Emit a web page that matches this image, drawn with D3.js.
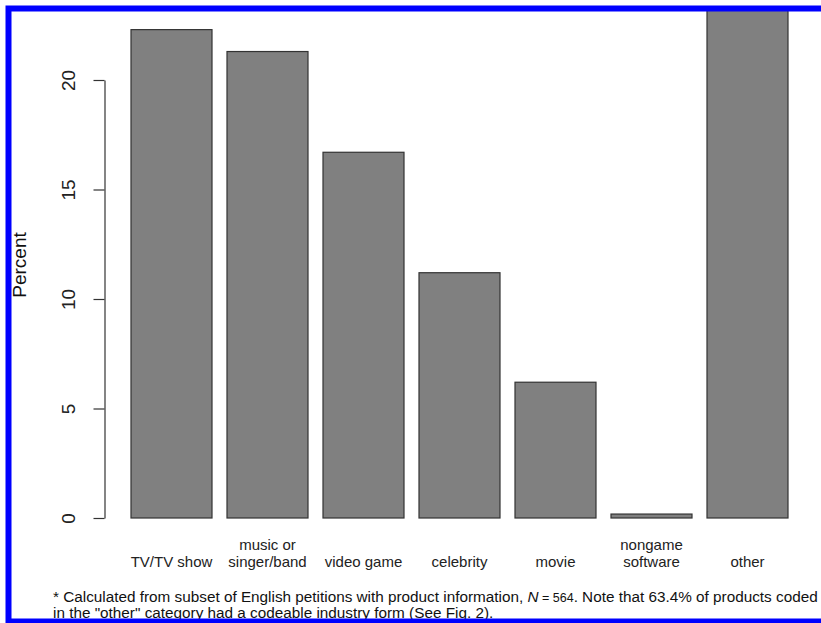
<!DOCTYPE html>
<html>
<head>
<meta charset="utf-8">
<script src="https://cdn.jsdelivr.net/npm/d3@7"></script>
<style>
  html, body { margin: 0; padding: 0; background: #fff; }
  svg { display: block; font-family: "Liberation Sans", Arial, Helvetica, sans-serif; }
</style>
</head>
<body>
<svg id="chart" width="821" height="623"></svg>
<script>
// data
var categories = ["TV/TV show", "music or\nsinger/band", "video game", "celebrity", "movie", "nongame\nsoftware", "other"];
var percents = [22.3, 21.3, 16.7, 11.2, 6.2, 0.18, 24.5];
var yTicks = [0, 5, 10, 15, 20];
var footnote = [
  ["* Calculated from subset of English petitions with product information, ", {it: "N"}, {sm: " = 564"}, ". Note that 63.4% of products coded"],
  ["in the \"other\" category had a codeable industry form (See Fig. 2)."]
];

var svg = d3.select("#chart");

var x = d3.scaleBand()
  .domain(categories)
  .range([131, 788])
  .paddingInner(15 / 96)
  .paddingOuter(0);

var y = d3.scaleLinear()
  .domain([0, 20])
  .range([518, 80]);

// keep the tall bar inside the frame
svg.append("clipPath").attr("id", "frame")
  .append("rect").attr("x", 8).attr("y", 8).attr("width", 821).attr("height", 612);

svg.append("g")
  .attr("clip-path", "url(#frame)")
  .selectAll("rect")
  .data(percents)
  .enter().append("rect")
  .attr("x", function(d, i) { return x(categories[i]); })
  .attr("y", function(d) { return y(d); })
  .attr("width", x.bandwidth())
  .attr("height", function(d) { return y(0) - y(d); })
  .style("fill", "#808080")
  .style("stroke", "#333")
  .style("stroke-width", 1.2);

// y axis, R style: labels parallel to the axis
var yAxis = svg.append("g")
  .attr("transform", "translate(104.5,0)")
  .call(d3.axisLeft(y).tickValues(yTicks).tickSize(11).tickSizeOuter(0));
yAxis.select(".domain").attr("stroke", "#333").attr("stroke-width", 1.2);
yAxis.selectAll(".tick line").attr("stroke", "#333").attr("stroke-width", 1.2);
yAxis.selectAll(".tick text")
  .attr("x", null).attr("dy", null)
  .attr("transform", "translate(-29.5,0) rotate(-90)")
  .attr("text-anchor", "middle")
  .style("font-size", "19px")
  .style("fill", "#222");

svg.append("text")
  .attr("transform", "translate(26,265) rotate(-90)")
  .attr("text-anchor", "middle")
  .style("font-size", "19px")
  .style("fill", "#111")
  .text("Percent");

// category labels, bottom-aligned
svg.append("g").selectAll("text")
  .data(categories)
  .enter().append("text")
  .attr("text-anchor", "middle")
  .attr("transform", function(d) { return "translate(" + (x(d) + x.bandwidth() / 2) + ",567)"; })
  .style("font-size", "15px")
  .style("fill", "#222")
  .each(function(d) {
    var lines = d.split("\n");
    var t = d3.select(this);
    lines.forEach(function(l, k) {
      t.append("tspan").attr("x", 0).attr("y", -(lines.length - 1 - k) * 17).text(l);
    });
  });

// footnote
var fn = svg.append("g").style("font-size", "15.3px").style("fill", "#111");
footnote.forEach(function(parts, k) {
  var t = fn.append("text").attr("x", 53).attr("y", 602 + k * 16);
  parts.forEach(function(p) {
    if (typeof p === "string") t.append("tspan").text(p);
    else if (p.it) t.append("tspan").style("font-style", "italic").text(p.it);
    else t.append("tspan").style("font-size", "12.5px").text(p.sm);
  });
});

// blue frame (right edge is cut off in the picture)
svg.append("rect")
  .attr("x", 8.5).attr("y", 8.5)
  .attr("width", 830).attr("height", 613)
  .style("fill", "none")
  .style("stroke", "#0000ff")
  .style("stroke-width", 6);
</script>
</body>
</html>
